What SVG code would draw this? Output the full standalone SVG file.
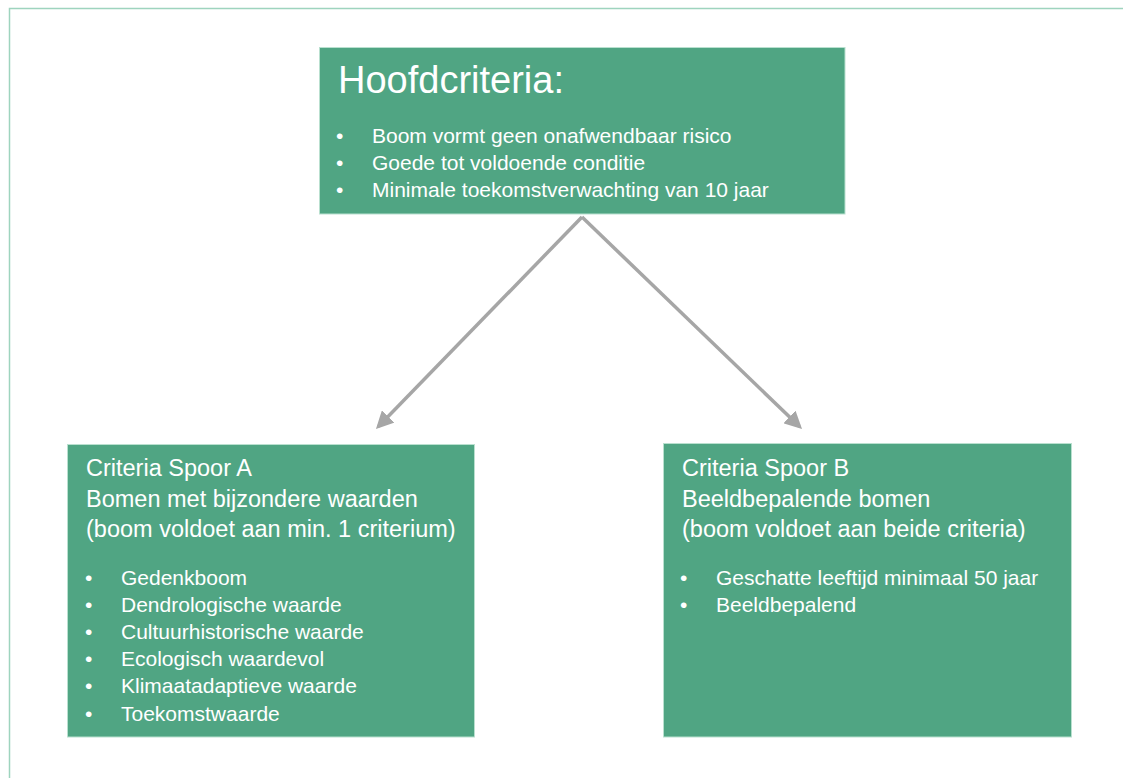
<svg xmlns="http://www.w3.org/2000/svg" width="1123" height="778" viewBox="0 0 1123 778">
<defs>
<style>
.box{fill:#50A583;stroke:#B9E0CF;stroke-width:1}
.t{fill:#FFFFFF;font-family:"Liberation Sans",Arial,sans-serif}
.title{font-size:38px}
.hd{font-size:23.5px}
.li{font-size:21px}
.conn{stroke:#A6A6A6;stroke-width:3.5;fill:none}
</style>
<marker id="ah" markerWidth="5" markerHeight="5" refX="4" refY="2.5" orient="auto" markerUnits="strokeWidth">
<path d="M0,0 L5,2.5 L0,5 Z" fill="#A6A6A6"/>
</marker>
</defs>
<rect x="0" y="0" width="1123" height="778" fill="#FFFFFF"/>
<path d="M9.5,790 L9.5,8.5 L1130,8.5" fill="none" stroke="#9ED4BE" stroke-width="1.5"/>
<g id="connectors">
<line class="conn" x1="582" y1="217" x2="378.4" y2="426.5" marker-end="url(#ah)"/>
<line class="conn" x1="582" y1="217" x2="799.5" y2="426.6" marker-end="url(#ah)"/>
</g>
<g id="hoofdcriteria">
<rect class="box" x="319.5" y="47.5" width="525.5" height="166.5"/>
<text class="t title" x="338" y="93">Hoofdcriteria:</text>
<g class="t li">
<text x="336" y="143">•</text><text x="372" y="143">Boom vormt geen onafwendbaar risico</text>
<text x="336" y="170">•</text><text x="372" y="170">Goede tot voldoende conditie</text>
<text x="336" y="197">•</text><text x="372" y="197">Minimale toekomstverwachting van 10 jaar</text>
</g>
</g>
<g id="spoorA">
<rect class="box" x="67.5" y="444.5" width="407" height="292.5"/>
<g class="t hd">
<text x="86" y="476">Criteria Spoor A</text>
<text x="86" y="507">Bomen met bijzondere waarden</text>
<text x="86" y="537">(boom voldoet aan min. 1 criterium)</text>
</g>
<g class="t li">
<text x="85" y="585">•</text><text x="121" y="585">Gedenkboom</text>
<text x="85" y="612">•</text><text x="121" y="612">Dendrologische waarde</text>
<text x="85" y="639">•</text><text x="121" y="639">Cultuurhistorische waarde</text>
<text x="85" y="666">•</text><text x="121" y="666">Ecologisch waardevol</text>
<text x="85" y="693">•</text><text x="121" y="693">Klimaatadaptieve waarde</text>
<text x="85" y="721">•</text><text x="121" y="721">Toekomstwaarde</text>
</g>
</g>
<g id="spoorB">
<rect class="box" x="663.5" y="443.5" width="408" height="293.5"/>
<g class="t hd">
<text x="682" y="476">Criteria Spoor B</text>
<text x="682" y="507">Beeldbepalende bomen</text>
<text x="682" y="537">(boom voldoet aan beide criteria)</text>
</g>
<g class="t li">
<text x="680" y="585">•</text><text x="716" y="585">Geschatte leeftijd minimaal 50 jaar</text>
<text x="680" y="612">•</text><text x="716" y="612">Beeldbepalend</text>
</g>
</g>
</svg>
